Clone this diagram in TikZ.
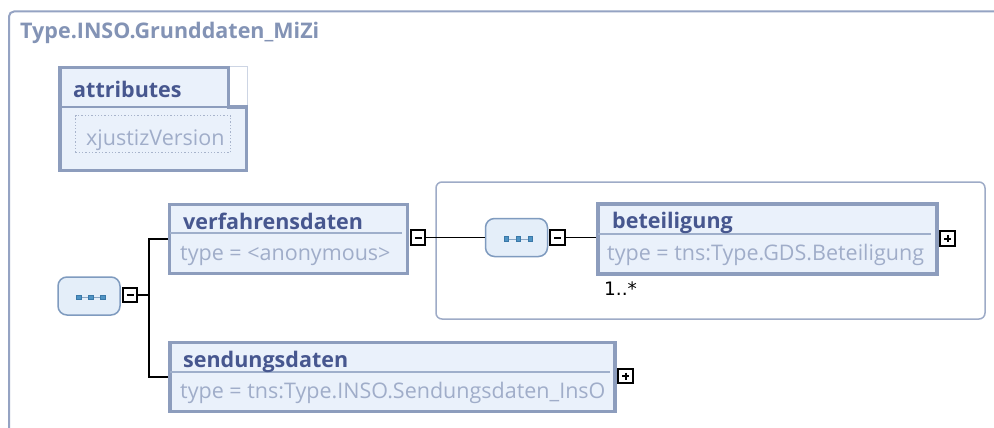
\documentclass[tikz,border=0pt]{standalone}
\usepackage{fontspec}
\setmainfont{Open Sans}
\newfontfamily\dvfont{DejaVu Sans}
\usetikzlibrary{calc}
\definecolor{framec}{HTML}{95A3C3}
\definecolor{bordc}{HTML}{8D9DBD}
\definecolor{divc}{HTML}{9FAFCB}
\definecolor{elemf}{HTML}{EAF1FB}
\definecolor{titlec}{HTML}{8393B5}
\definecolor{namec}{HTML}{47578F}
\definecolor{typec}{HTML}{A0ADC9}
\definecolor{grpc}{HTML}{9EABC7}
\definecolor{seqf}{HTML}{E4EEF9}
\definecolor{seqb}{HTML}{7F9BBF}
\definecolor{dotc}{HTML}{3A78A8}
\definecolor{dotf}{HTML}{4E93C4}
\definecolor{dotl}{HTML}{8AA6C4}
\definecolor{notchc}{HTML}{CDD5E4}
\definecolor{dottedc}{HTML}{A8B4CC}
\tikzset{
  elem/.style={draw=bordc, line width=3.5, fill=elemf, inner sep=0},
  namelbl/.style={anchor=base west, inner sep=0, text=namec, font=\fontsize{21.5}{24}\selectfont\bfseries},
  typelbl/.style={anchor=base west, inner sep=0, text=typec, font=\fontsize{21.5}{24}\selectfont},
  divider/.style={draw=divc, line width=2},
  pm/.style={draw=black, line width=1.9, fill=white, minimum size=14.5, inner sep=0},
  minusbox/.style={pm, path picture={\draw[line width=2] ($(path picture bounding box.center)+(-3.5,0)$) -- ++(7,0);}},
  plusbox/.style={pm, path picture={\draw[line width=2] ($(path picture bounding box.center)+(-3.5,0)$) -- ++(7,0); \draw[line width=2] ($(path picture bounding box.center)+(0,-3.5)$) -- ++(0,7);}},
  seqbox/.style={draw=seqb, line width=1.5, fill=seqf, rounded corners=9, minimum width=62, minimum height=38, inner sep=0},
  conn/.style={draw=black, line width=1.9},
  groupbox/.style={draw=grpc, line width=1.5, rounded corners=6, minimum width=549, minimum height=137, inner sep=0},
}
\newcommand\seqdots[1]{%
  \draw[dotl, line width=1] ($(#1.center)+(-10,1.5)$) -- ($(#1.center)+(14,1.5)$);
  \foreach \dx in {-10,2,14}{\filldraw[fill=dotf, draw=dotc, line width=0.8] ($(#1.center)+(\dx,1.5)$) +(-2.3,-2.3) rectangle +(2.3,2.3);}
}
\begin{document}
\begin{tikzpicture}[x=1pt,y=-1pt]
\useasboundingbox (0,0) rectangle (994,428);
\fill[white] (0,0) rectangle (994,428);
% outer frame
\draw[framec, line width=2, rounded corners=5] (1000,11.5) -- (9,11.5) -- (9,440);
\node[anchor=base west, inner sep=0, text=titlec, font=\fontsize{21.5}{24}\selectfont\bfseries] (title) at (20,39) {Type.INSO.Grunddaten\_MiZi};
% attributes
\node[anchor=north west, minimum width=190, minimum height=106, inner sep=0, fill=elemf] (attr) at (58,66) {};
\fill[white] (229.5,66) rectangle (248,105);
\draw[notchc, line width=1] (229.5,66.5) -- (247.5,66.5) -- (247.5,105);
\draw[bordc, line width=2] (60,107) -- (246,107);
\draw[bordc, line width=3.5] (59.75,67.75) -- (228.25,67.75) -- (228.25,107) -- (246.25,107) -- (246.25,170.25) -- (59.75,170.25) -- cycle;
\node[namelbl] (attrlbl) at (73,97) {attributes};
\node[draw=dottedc, dotted, line width=1.3, minimum width=155, minimum height=37, inner sep=0] (xjv) at (153,134) {};
\node[typelbl] (xjvlbl) at (86,146) {xjustizVersion};
% group box
\node[groupbox] (grp) at (710.5,250.5) {};
% sequence 1
\node[seqbox] (seq1) at (89,296) {};
\seqdots{seq1}
\node[minusbox] (m1) at (130,295) {};
% verfahrensdaten
\node[elem, minimum width=238, minimum height=69] (verf) at (288.5,239) {};
\draw[divider] (170,233) -- (402,233);
\node[namelbl] (verflbl) at (183,229) {verfahrensdaten};
\node[typelbl] (verftype) at (180,260) {type = <anonymous>};
\node[minusbox] (m2) at (418,237.5) {};
% sendungsdaten
\node[elem, minimum width=445, minimum height=69] (send) at (392.5,377) {};
\draw[divider] (170,372) -- (610,372);
\node[namelbl] (sendlbl) at (183,367) {sendungsdaten};
\node[typelbl] (sendtype) at (180,398) {type = tns:Type.INSO.Sendungsdaten\_InsO};
\node[plusbox] (p2) at (625.5,376) {};
% sequence 2
\node[seqbox] (seq2) at (516.5,237.5) {};
\seqdots{seq2}
\node[minusbox] (m3) at (557.5,237.5) {};
% beteiligung
\node[elem, minimum width=339, minimum height=70] (bet) at (767.5,239) {};
\draw[divider] (598,234) -- (931,234);
\node[namelbl] (betlbl) at (612,228) {beteiligung};
\node[typelbl] (bettype) at (607,260) {type = tns:Type.GDS.Beteiligung};
\node[plusbox] (p1) at (947.5,238.5) {};
\node[anchor=base west, inner sep=0, font=\dvfont\fontsize{18.5}{22}\selectfont] (card) at (604,295) {1..*};
% connectors
\coordinate (jx) at (149,295);
\draw[conn] (m1.east) -- (jx) |- (verf.west);
\draw[conn] (jx) |- (send.west);
\draw[conn] (m2.east) -- (seq2.west);
\draw[conn] (m3.east) -- (m3.east -| bet.west);
\end{tikzpicture}
\end{document}
